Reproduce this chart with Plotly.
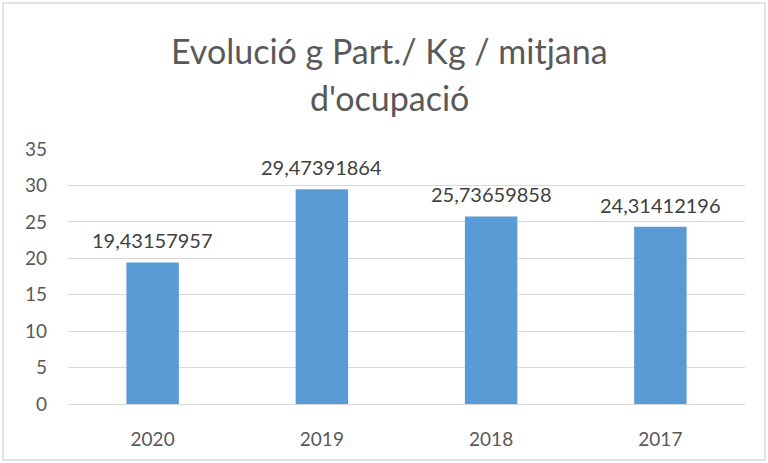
import plotly.graph_objects as go

categories = ["2020", "2019", "2018", "2017"]
values = [19.43157957, 29.47391864, 25.73659858, 24.31412196]
y_ticks = [0, 5, 10, 15, 20, 25, 30, 35]
title_lines = ["Evolució g Part./ Kg / mitjana", "d'ocupació"]

FONT = "Lato, 'Open Sans', sans-serif"

fig = go.Figure()
fig.add_trace(go.Bar(
    x=categories, y=values,
    marker=dict(color="#5B9BD5", line=dict(width=0)),
    width=0.31,
    hoverinfo="x+y",
))

for i, v in enumerate(values):
    fig.add_annotation(
        x=i, y=v, xref="x", yref="y",
        text=f"{v:.8f}".replace(".", ","),
        showarrow=False, yanchor="bottom", yshift=8,
        font=dict(family=FONT, size=20, color="#404040"),
    )

for line, ypx in zip(title_lines, [50, 97]):
    fig.add_annotation(
        x=(389 - 68) / 677, xref="paper", y=(404 - ypx) / 255, yref="paper",
        text=line, showarrow=False, xanchor="center", yanchor="middle",
        font=dict(family=FONT, size=34, color="#595959"),
    )

fig.update_layout(
    width=768, height=463,
    margin=dict(l=68, r=23, t=149, b=59),
    paper_bgcolor="white", plot_bgcolor="white",
    separators=",.",
    showlegend=False,
    xaxis=dict(
        type="category", range=[-0.5, len(categories) - 0.5],
        showgrid=False, zeroline=False,
        showline=True, linecolor="#D9D9D9", linewidth=1,
        ticks="", ticklabelstandoff=18,
        tickfont=dict(family=FONT, size=19, color="#595959"),
    ),
    yaxis=dict(
        range=[0, 35], tickvals=y_ticks,
        showgrid=True, gridcolor="#D9D9D9", gridwidth=1,
        zeroline=False, showline=False, ticks="",
        ticklabelstandoff=20,
        tickfont=dict(family=FONT, size=19, color="#595959"),
    ),
    shapes=[dict(
        type="rect", xref="paper", yref="paper",
        x0=(3 - 68) / 677, x1=(765 - 68) / 677,
        y0=(404 - 460) / 255, y1=(404 - 3) / 255,
        line=dict(color="#D9D9D9", width=1.5), fillcolor="rgba(0,0,0,0)",
        layer="below",
    )],
)

fig.write_html(
    "out.html",
    config={"displayModeBar": False},
    post_script="document.body.style.margin='0';document.body.style.overflow='hidden';",
)
